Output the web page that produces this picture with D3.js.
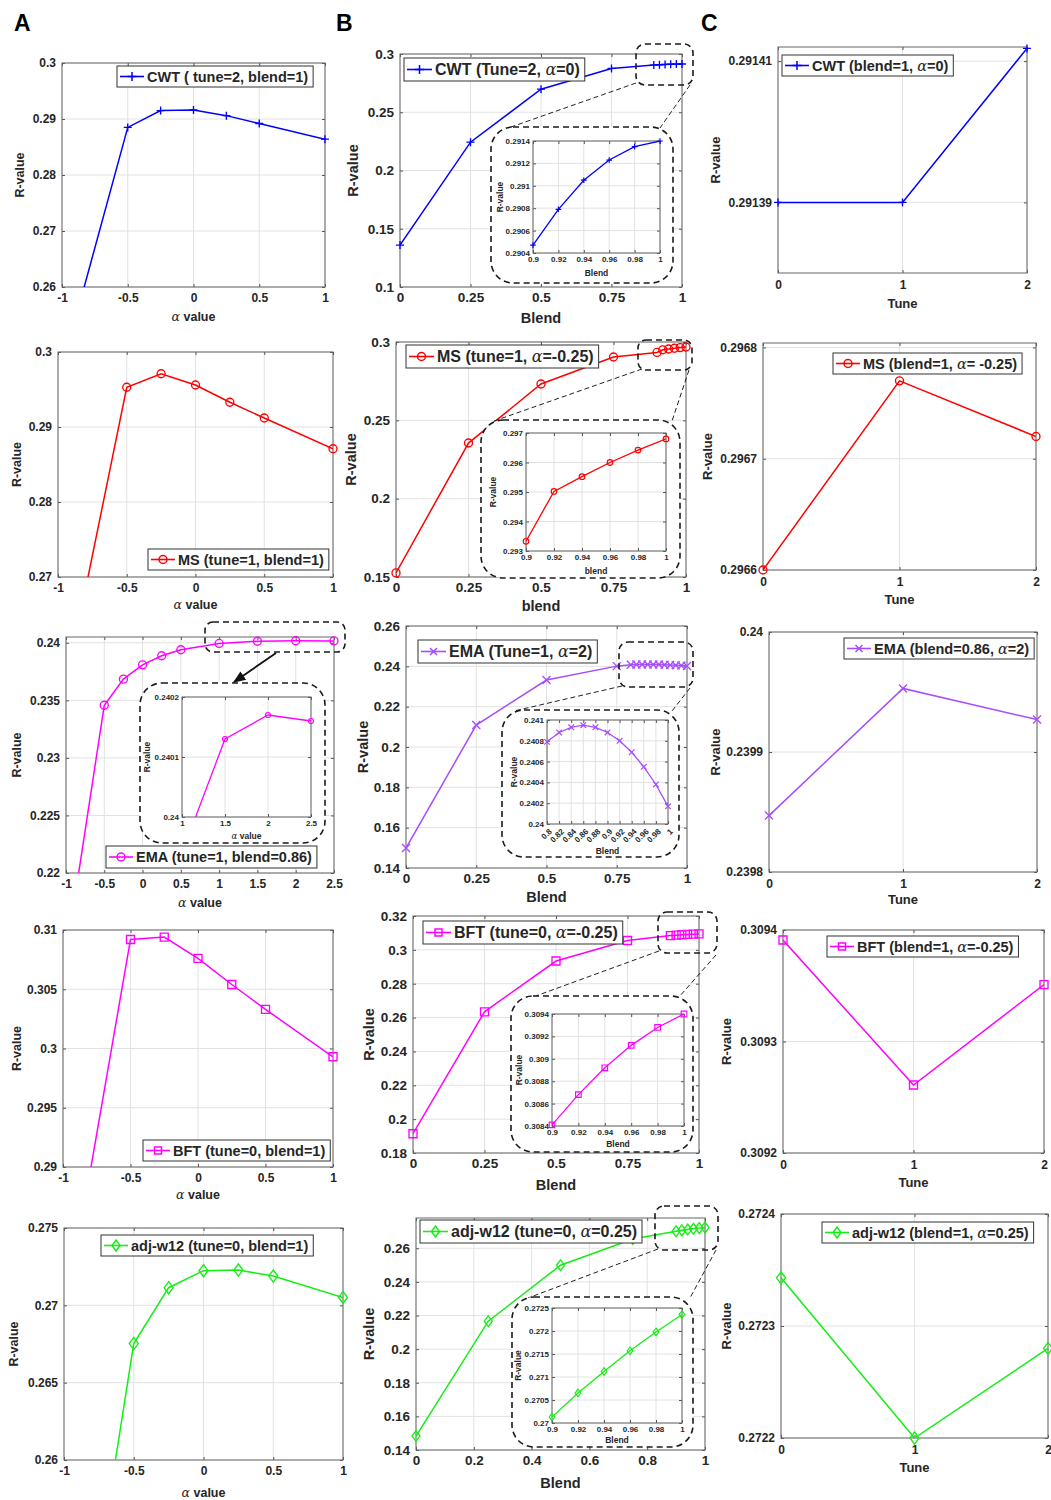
<!DOCTYPE html>
<html>
<head>
<meta charset="utf-8">
<script src="https://cdn.jsdelivr.net/npm/d3@7"></script>
<style>
  body { margin: 0; background: #fff; }
  text { font-family: "Liberation Sans", Arial, sans-serif; font-weight: bold; fill: #262626; }
</style>
</head>
<body>
<script>
// ---- data ----
// column A : R-value against alpha
const alphaA = [-1, -0.5, -0.25, 0, 0.25, 0.5, 1];
const alphaEma = [-1, -0.5, -0.25, 0, 0.25, 0.5, 1, 1.5, 2, 2.5];
const cwtByAlpha = [0.2455, 0.2885, 0.2915, 0.2916, 0.2906, 0.2892, 0.2864];
const msByAlpha = [0.2504, 0.2953, 0.2971, 0.2956, 0.2933, 0.2912, 0.2871];
const emaByAlpha = [0.2128, 0.23457, 0.23684, 0.23808, 0.23887, 0.23939, 0.23994, 0.24013, 0.24017, 0.24016];
const bftByAlpha = [0.2764, 0.3092, 0.3094, 0.3076, 0.3054, 0.3033, 0.2993];
const adjByAlpha = [0.2388, 0.26753, 0.27114, 0.27224, 0.27228, 0.27189, 0.27051];

// column B : R-value against blend
const blendFine = [0, 0.25, 0.5, 0.75, 0.9, 0.92, 0.94, 0.96, 0.98, 1];
const blendEma = [0, 0.25, 0.5, 0.75, 0.8, 0.82, 0.84, 0.86, 0.88, 0.9, 0.92, 0.94, 0.96, 0.98, 1];
const cwtByBlend = [0.136, 0.2243, 0.2698, 0.2876, 0.29047, 0.29079, 0.29105, 0.29123, 0.29135, 0.2914];
const msByBlend = [0.1526, 0.2355, 0.2732, 0.2904, 0.29333, 0.29502, 0.29552, 0.296, 0.29642, 0.2968];
const emaByBlend = [0.1499, 0.2109, 0.2332, 0.2401, 0.24079, 0.24088, 0.24093, 0.24095, 0.24093, 0.24088, 0.2408, 0.24069, 0.24055, 0.24038, 0.24017];
const bftByBlend = [0.1914, 0.2634, 0.2934, 0.3055, 0.30841, 0.30868, 0.30892, 0.30912, 0.30928, 0.3094];
const adjByBlend = [0.1483, 0.2166, 0.2499, 0.2655, 0.27013, 0.27065, 0.27112, 0.27157, 0.27198, 0.27236];

// column C : R-value against tune
const tunes = [0, 1, 2];
const cwtByTune = [0.29139, 0.29139, 0.2914118];
const msByTune = [0.2966, 0.29677, 0.29672];
const emaByTune = [0.239847, 0.239953, 0.239927];
const bftByTune = [0.309391, 0.309261, 0.309351];
const adjByTune = [0.272343, 0.2722, 0.27228];

// tick values
const alphaTicks = [-1, -0.5, 0, 0.5, 1];
const alphaTicksEma = [-1, -0.5, 0, 0.5, 1, 1.5, 2, 2.5];
const alphaTicksInset = [1, 1.5, 2, 2.5];
const blendTicks = [0, 0.25, 0.5, 0.75, 1];
const blendTicks5 = [0, 0.2, 0.4, 0.6, 0.8, 1];
const blendTicksInset = [0.9, 0.92, 0.94, 0.96, 0.98, 1];
const blendTicksEmaInset = [0.8, 0.82, 0.84, 0.86, 0.88, 0.9, 0.92, 0.94, 0.96, 0.98, 1];
const tuneTicks = [0, 1, 2];

const yTicksA1 = [0.26, 0.27, 0.28, 0.29, 0.3];
const yTicksA2 = [0.27, 0.28, 0.29, 0.3];
const yTicksA3 = [0.22, 0.225, 0.23, 0.235, 0.24];
const yTicksA3in = [0.24, 0.2401, 0.2402];
const yTicksA4 = [0.29, 0.295, 0.3, 0.305, 0.31];
const yTicksA5 = [0.26, 0.265, 0.27, 0.275];
const yTicksB1 = [0.1, 0.15, 0.2, 0.25, 0.3];
const yTicksB1in = [0.2904, 0.2906, 0.2908, 0.291, 0.2912, 0.2914];
const yTicksB2 = [0.15, 0.2, 0.25, 0.3];
const yTicksB2in = [0.293, 0.294, 0.295, 0.296, 0.297];
const yTicksB3 = [0.14, 0.16, 0.18, 0.2, 0.22, 0.24, 0.26];
const yTicksB3in = [0.24, 0.2402, 0.2404, 0.2406, 0.2408, 0.241];
const yTicksB4 = [0.18, 0.2, 0.22, 0.24, 0.26, 0.28, 0.3, 0.32];
const yTicksB4in = [0.3084, 0.3086, 0.3088, 0.309, 0.3092, 0.3094];
const yTicksB5 = [0.14, 0.16, 0.18, 0.2, 0.22, 0.24, 0.26];
const yTicksB5in = [0.27, 0.2705, 0.271, 0.2715, 0.272, 0.2725];
const yTicksC1 = [0.29139, 0.29141];
const yTicksC2 = [0.2966, 0.2967, 0.2968];
const yTicksC3 = [0.2398, 0.2399, 0.24];
const yTicksC4 = [0.3092, 0.3093, 0.3094];
const yTicksC5 = [0.2722, 0.2723, 0.2724];

const BLUE = '#0000ff', RED = '#ff0000', MAG = '#ff00ff', PURP = '#a64dff', GRN = '#14ee14';

const svg = d3.select('body').append('svg')
  .attr('width', 1051)
  .attr('height', 1500);

const fmt = d => String(+d.toFixed(7));
let clipCount = 0;

// MATLAB style marker outlines
function markerPath(type, s) {
  switch (type) {
    case 'plus': return `M${-s},0H${s}M0,${-s}V${s}`;
    case 'x': return `M${-s},${-s}L${s},${s}M${-s},${s}L${s},${-s}`;
    case 'circle': return `M${s},0A${s},${s} 0 1,1 ${-s},0A${s},${s} 0 1,1 ${s},0Z`;
    case 'square': return `M${-s},${-s}H${s}V${s}H${-s}Z`;
    case 'diamond': return `M0,${-s * 1.35}L${s},0L0,${s * 1.35}L${-s},0Z`;
  }
}

// write a string, the greek alpha as italic serif like MATLAB's tex
function richText(sel, str) {
  str.split('α').forEach((part, i) => {
    if (i > 0) sel.append('tspan')
      .style('font-family', '"DejaVu Serif", serif')
      .style('font-style', 'italic')
      .style('font-weight', 'normal')
      .text('α');
    if (part) sel.append('tspan').text(part);
  });
  return sel;
}

function drawPlot(c, s) {
  const [x0, x1, y0, y1] = c.box;
  const g = svg.append('g');
  const x = d3.scaleLinear().domain(c.xDom).range([x0, x1]);
  const y = d3.scaleLinear().domain(c.yDom).range([y1, y0]);

  g.append('rect')
    .attr('x', x0).attr('y', y0)
    .attr('width', x1 - x0).attr('height', y1 - y0)
    .attr('fill', '#fff');

  // grid
  g.append('g').selectAll('line')
    .data(c.xTicks)
    .enter()
    .append('line')
    .attr('x1', d => x(d)).attr('x2', d => x(d))
    .attr('y1', y0).attr('y2', y1)
    .attr('stroke', '#e2e2e2');
  g.append('g').selectAll('line')
    .data(c.yTicks)
    .enter()
    .append('line')
    .attr('y1', d => y(d)).attr('y2', d => y(d))
    .attr('x1', x0).attr('x2', x1)
    .attr('stroke', '#e2e2e2');

  const fs = c.tick;
  const ax = g.append('g')
    .attr('transform', `translate(0, ${y1})`)
    .call(d3.axisBottom(x).tickValues(c.xTicks).tickFormat(fmt).tickSizeInner(-3).tickSizeOuter(0).tickPadding(c.xPad));
  const ay = g.append('g')
    .attr('transform', `translate(${x0}, 0)`)
    .call(d3.axisLeft(y).tickValues(c.yTicks).tickFormat(fmt).tickSizeInner(-3).tickSizeOuter(0).tickPadding(c.yPad));
  g.append('g')
    .attr('transform', `translate(0, ${y0})`)
    .call(d3.axisTop(x).tickValues(c.xTicks).tickFormat('').tickSizeInner(-3).tickSizeOuter(0));
  g.append('g')
    .attr('transform', `translate(${x1}, 0)`)
    .call(d3.axisRight(y).tickValues(c.yTicks).tickFormat('').tickSizeInner(-3).tickSizeOuter(0));
  g.selectAll('.domain').remove();
  g.selectAll('.tick line').attr('stroke', '#555');
  ax.selectAll('text').attr('font-size', fs);
  ay.selectAll('text').attr('font-size', fs);
  if (c.rotateX) {
    // slanted labels ending under their tick
    ax.selectAll('text')
      .attr('x', 0).attr('y', 0)
      .attr('dy', '0.35em')
      .attr('text-anchor', 'end')
      .attr('transform', 'translate(3, 6) rotate(-45)');
  }

  g.append('rect')
    .attr('x', x0).attr('y', y0)
    .attr('width', x1 - x0).attr('height', y1 - y0)
    .attr('fill', 'none')
    .attr('stroke', '#666')
    .attr('stroke-width', 1);

  // series
  const eps = 1e-9;
  const pts = s.xs.map((v, i) => [v, s.ys[i]])
    .filter(p => p[0] >= c.xDom[0] - eps && p[0] <= c.xDom[1] + eps);
  const clipId = 'clip' + (clipCount++);
  g.append('clipPath').attr('id', clipId)
    .append('rect')
    .attr('x', x0).attr('y', y0)
    .attr('width', x1 - x0).attr('height', y1 - y0);
  g.append('path')
    .datum(pts)
    .attr('clip-path', `url(#${clipId})`)
    .attr('fill', 'none')
    .attr('stroke', s.color)
    .attr('stroke-width', c.lw)
    .attr('d', d3.line().x(d => x(d[0])).y(d => y(d[1])));
  g.append('g').selectAll('path')
    .data(pts.filter(p => p[1] >= c.yDom[0] - eps && p[1] <= c.yDom[1] + eps))
    .enter()
    .append('path')
    .attr('transform', d => `translate(${x(d[0])}, ${y(d[1])})`)
    .attr('d', markerPath(s.marker, c.ms))
    .attr('fill', 'none')
    .attr('stroke', s.color)
    .attr('stroke-width', c.lw * 0.9);

  // axis labels
  if (c.xLabel) {
    richText(g.append('text')
      .attr('x', (x0 + x1) / 2)
      .attr('y', c.xLabelY)
      .attr('text-anchor', 'middle')
      .attr('font-size', c.label), c.xLabel);
  }
  g.append('text')
    .attr('transform', `translate(${c.yLabelX}, ${(y0 + y1) / 2}) rotate(-90)`)
    .attr('text-anchor', 'middle')
    .attr('font-size', c.label)
    .text('R-value');
  return g;
}

function drawLegend(L, s) {
  const g = svg.append('g');
  const box = g.append('rect');
  const t = richText(g.append('text')
    .attr('x', L.x + L.sample + 3)
    .attr('y', L.y + L.h / 2 + L.size * 0.36)
    .attr('font-size', L.size), L.text);
  const w = t.node().getComputedTextLength() + L.sample + 8;
  box.attr('x', L.x).attr('y', L.y).attr('width', w).attr('height', L.h)
    .attr('fill', '#fff').attr('stroke', '#333').attr('stroke-width', 1);
  g.append('line')
    .attr('x1', L.x + 3).attr('x2', L.x + L.sample)
    .attr('y1', L.y + L.h / 2).attr('y2', L.y + L.h / 2)
    .attr('stroke', s.color).attr('stroke-width', 1.6);
  g.append('path')
    .attr('transform', `translate(${L.x + 3 + (L.sample - 3) / 2}, ${L.y + L.h / 2})`)
    .attr('d', markerPath(s.marker, L.ms))
    .attr('fill', 'none').attr('stroke', s.color).attr('stroke-width', 1.5);
}

function dashedBox(b, rx) {
  svg.append('rect')
    .attr('x', b[0]).attr('y', b[1])
    .attr('width', b[2] - b[0]).attr('height', b[3] - b[1])
    .attr('rx', rx).attr('ry', rx)
    .attr('fill', 'none')
    .attr('stroke', '#1a1a1a').attr('stroke-width', 1.6)
    .attr('stroke-dasharray', '6,4');
}

function drawZoom(z) {
  dashedBox(z.zoomBox, z.zoomR);
  z.connectors.forEach(l => {
    svg.append('line')
      .attr('x1', l[0]).attr('y1', l[1]).attr('x2', l[2]).attr('y2', l[3])
      .attr('stroke', '#222').attr('stroke-width', 1)
      .attr('stroke-dasharray', '5,3');
  });
  svg.append('rect')
    .attr('x', z.frame[0]).attr('y', z.frame[1])
    .attr('width', z.frame[2] - z.frame[0]).attr('height', z.frame[3] - z.frame[1])
    .attr('rx', 22).attr('ry', 22)
    .attr('fill', '#fff');
  dashedBox(z.frame, 22);
}

// ---- series ----
const S = {
  A1: { xs: alphaA, ys: cwtByAlpha, color: BLUE, marker: 'plus' },
  A2: { xs: alphaA, ys: msByAlpha, color: RED, marker: 'circle' },
  A3: { xs: alphaEma, ys: emaByAlpha, color: MAG, marker: 'circle' },
  A4: { xs: alphaA, ys: bftByAlpha, color: MAG, marker: 'square' },
  A5: { xs: alphaA, ys: adjByAlpha, color: GRN, marker: 'diamond' },
  B1: { xs: blendFine, ys: cwtByBlend, color: BLUE, marker: 'plus' },
  B2: { xs: blendFine, ys: msByBlend, color: RED, marker: 'circle' },
  B3: { xs: blendEma, ys: emaByBlend, color: PURP, marker: 'x' },
  B4: { xs: blendFine, ys: bftByBlend, color: MAG, marker: 'square' },
  B5: { xs: blendFine, ys: adjByBlend, color: GRN, marker: 'diamond' },
  C1: { xs: tunes, ys: cwtByTune, color: BLUE, marker: 'plus' },
  C2: { xs: tunes, ys: msByTune, color: RED, marker: 'circle' },
  C3: { xs: tunes, ys: emaByTune, color: PURP, marker: 'x' },
  C4: { xs: tunes, ys: bftByTune, color: MAG, marker: 'square' },
  C5: { xs: tunes, ys: adjByTune, color: GRN, marker: 'diamond' }
};

// ---- layout ----
const colA = { tick: 12, label: 12.5, xPad: 6, yPad: 6, lw: 1.5, ms: 4, xLabel: 'α value', xDom: [-1, 1], xTicks: alphaTicks };
const colB = { tick: 13.5, label: 14.5, xPad: 5, yPad: 6, lw: 1.5, ms: 4, xDom: [0, 1], xTicks: blendTicks };
const colC = { tick: 12, label: 13, xPad: 7, yPad: 6, lw: 1.5, ms: 4, xLabel: 'Tune', xDom: [0, 2], xTicks: tuneTicks };
const inset = { tick: 8, label: 8.5, xPad: 3, yPad: 3, lw: 1.3, ms: 2.8, xDom: [0.9, 1], xTicks: blendTicksInset };

const layout = [
  { id: 'A1', ...colA, box: [62, 325, 63, 287], yDom: [0.26, 0.3], yTicks: yTicksA1, xLabelY: 321, yLabelX: 24,
    legend: { x: 117, y: 66, h: 21, size: 14.5, sample: 27, ms: 4.5, text: 'CWT ( tune=2, blend=1)' } },
  { id: 'A2', ...colA, box: [58, 333, 352, 577], yDom: [0.27, 0.3], yTicks: yTicksA2, xLabelY: 609, yLabelX: 21,
    legend: { x: 148, y: 549, h: 21, size: 14.5, sample: 27, ms: 4, text: 'MS (tune=1, blend=1)' } },
  { id: 'A3', ...colA, box: [66, 334, 637, 873], xDom: [-1, 2.5], xTicks: alphaTicksEma, yDom: [0.22, 0.2405], yTicks: yTicksA3, xLabelY: 907, yLabelX: 21,
    legend: { x: 106, y: 846, h: 22, size: 14.5, sample: 27, ms: 4, text: 'EMA (tune=1, blend=0.86)' } },
  { id: 'A4', ...colA, box: [63, 333, 930, 1167], yDom: [0.29, 0.31], yTicks: yTicksA4, xLabelY: 1199, yLabelX: 21,
    legend: { x: 143, y: 1140, h: 21, size: 14.5, sample: 27, ms: 3.5, text: 'BFT (tune=0, blend=1)' } },
  { id: 'A5', ...colA, box: [64, 343, 1228, 1460], yDom: [0.26, 0.275], yTicks: yTicksA5, xLabelY: 1497, yLabelX: 18, ms: 4.5,
    legend: { x: 101, y: 1235, h: 21, size: 14.5, sample: 27, ms: 4, text: 'adj-w12 (tune=0, blend=1)' } },

  { id: 'B1', ...colB, box: [400, 682, 54, 287], yDom: [0.1, 0.3], yTicks: yTicksB1, xLabel: 'Blend', xLabelY: 323, yLabelX: 358,
    legend: { x: 404, y: 58, h: 23, size: 16, sample: 28, ms: 4.5, text: 'CWT (Tune=2, α=0)' },
    zoom: { zoomBox: [636, 44, 693, 85], zoomR: 9, frame: [491, 127, 673, 283],
      connectors: [[636, 83, 511, 127], [690, 85, 660, 128]],
      box: [533, 660, 141, 253], yDom: [0.2904, 0.2914], yTicks: yTicksB1in, xLabel: 'Blend', xLabelY: 276, yLabelX: 503 } },
  { id: 'B2', ...colB, box: [396, 686, 342, 577], yDom: [0.15, 0.3], yTicks: yTicksB2, xLabel: 'blend', xLabelY: 611, yLabelX: 356,
    legend: { x: 406, y: 345, h: 23, size: 16, sample: 28, ms: 4, text: 'MS (tune=1, α=-0.25)' },
    zoom: { zoomBox: [638, 340, 692, 370], zoomR: 8, frame: [481, 420, 680, 578],
      connectors: [[642, 369, 494, 421], [689, 370, 672, 421]],
      box: [526, 666, 433, 551], yDom: [0.293, 0.297], yTicks: yTicksB2in, xLabel: 'blend', xLabelY: 574, yLabelX: 496 } },
  { id: 'B3', ...colB, box: [406, 687, 626, 868], yDom: [0.14, 0.26], yTicks: yTicksB3, xLabel: 'Blend', xLabelY: 902, yLabelX: 368,
    legend: { x: 418, y: 640, h: 23, size: 16, sample: 28, ms: 3.5, text: 'EMA (Tune=1, α=2)' },
    zoom: { zoomBox: [619, 642, 693, 687], zoomR: 9, frame: [502, 710, 679, 857],
      connectors: [[622, 686, 514, 711], [690, 688, 672, 711]],
      box: [547, 668, 720, 824], xDom: [0.8, 1], xTicks: blendTicksEmaInset, rotateX: true,
      yDom: [0.24, 0.241], yTicks: yTicksB3in, xLabel: 'Blend', xLabelY: 854, yLabelX: 517 } },
  { id: 'B4', ...colB, box: [413, 699, 916, 1153], yDom: [0.18, 0.32], yTicks: yTicksB4, xLabel: 'Blend', xLabelY: 1190, yLabelX: 374,
    legend: { x: 423, y: 921, h: 23, size: 16, sample: 28, ms: 3.5, text: 'BFT (tune=0, α=-0.25)' },
    zoom: { zoomBox: [658, 912, 717, 953], zoomR: 9, frame: [511, 996, 693, 1152],
      connectors: [[659, 951, 533, 997], [716, 955, 679, 997]],
      box: [552, 684, 1014, 1126], yDom: [0.3084, 0.3094], yTicks: yTicksB4in, xLabel: 'Blend', xLabelY: 1147, yLabelX: 522 } },
  { id: 'B5', ...colB, box: [416, 705, 1218, 1450], xTicks: blendTicks5, yDom: [0.14, 0.278], yTicks: yTicksB5, xLabel: 'Blend', xLabelY: 1488, yLabelX: 374,
    legend: { x: 420, y: 1220, h: 23, size: 16, sample: 28, ms: 4, text: 'adj-w12 (tune=0, α=0.25)' },
    zoom: { zoomBox: [655, 1206, 718, 1250], zoomR: 9, frame: [512, 1297, 693, 1447],
      connectors: [[658, 1249, 528, 1298], [716, 1250, 690, 1298]],
      box: [552, 682, 1308, 1423], yDom: [0.27, 0.2725], yTicks: yTicksB5in, xLabel: 'Blend', xLabelY: 1443, yLabelX: 521 } },

  { id: 'C1', ...colC, box: [778, 1027, 47, 273], yDom: [0.29138, 0.291412], yTicks: yTicksC1, xLabelY: 308, yLabelX: 720,
    legend: { x: 782, y: 55, h: 21, size: 14.5, sample: 27, ms: 4.5, text: 'CWT (blend=1, α=0)' } },
  { id: 'C2', ...colC, box: [763, 1036, 343, 570], yDom: [0.2966, 0.296804], yTicks: yTicksC2, xLabelY: 604, yLabelX: 712,
    legend: { x: 833, y: 353, h: 21, size: 14.5, sample: 27, ms: 4, text: 'MS (blend=1, α= -0.25)' } },
  { id: 'C3', ...colC, box: [769, 1037, 632, 872], yDom: [0.2398, 0.24], yTicks: yTicksC3, xLabelY: 904, yLabelX: 720,
    legend: { x: 844, y: 638, h: 21, size: 14.5, sample: 27, ms: 3.5, text: 'EMA (blend=0.86, α=2)' } },
  { id: 'C4', ...colC, box: [783, 1044, 930, 1153], yDom: [0.3092, 0.3094], yTicks: yTicksC4, xLabelY: 1187, yLabelX: 731,
    legend: { x: 827, y: 936, h: 21, size: 14.5, sample: 27, ms: 3.5, text: 'BFT (blend=1, α=-0.25)' } },
  { id: 'C5', ...colC, box: [781, 1048, 1214, 1438], yDom: [0.2722, 0.2724], yTicks: yTicksC5, xLabelY: 1472, yLabelX: 731, ms: 4.5,
    legend: { x: 822, y: 1222, h: 21, size: 14.5, sample: 27, ms: 4, text: 'adj-w12 (blend=1, α=0.25)' } }
];

layout.forEach(p => {
  const s = S[p.id];
  drawPlot(p, s);
  drawLegend(p.legend, s);
  if (p.zoom) {
    drawZoom(p.zoom);
    drawPlot({ ...inset, ...p.zoom }, s);
  }
});

// inset of panel A3 (alpha 1 .. 2.5), with the arrow
(function () {
  dashedBox([205, 622, 345, 652], 8);
  svg.append('defs').append('marker')
    .attr('id', 'arrowHead')
    .attr('viewBox', '0 0 10 10')
    .attr('refX', 9).attr('refY', 5)
    .attr('markerWidth', 7).attr('markerHeight', 7)
    .attr('orient', 'auto')
    .append('path').attr('d', 'M0,1L10,5L0,9Z').attr('fill', '#111');
  svg.append('line')
    .attr('x1', 276).attr('y1', 653).attr('x2', 234).attr('y2', 682)
    .attr('stroke', '#111').attr('stroke-width', 1.8)
    .attr('marker-end', 'url(#arrowHead)');
  svg.append('rect')
    .attr('x', 140).attr('y', 683).attr('width', 185).attr('height', 160)
    .attr('rx', 22).attr('fill', '#fff');
  dashedBox([140, 683, 325, 843], 22);
  drawPlot({ ...inset, box: [182, 311, 697, 817], xDom: [1, 2.5], xTicks: alphaTicksInset,
    yDom: [0.24, 0.2402], yTicks: yTicksA3in, xLabel: 'α value', xLabelY: 839, yLabelX: 150, lw: 1.3, ms: 2.5 }, S.A3);
})();

// panel letters
[['A', 14], ['B', 336], ['C', 701]].forEach(([t, x]) => {
  svg.append('text')
    .attr('x', x).attr('y', 31)
    .attr('font-size', 23)
    .style('fill', '#000')
    .text(t);
});
</script>
</body>
</html>
